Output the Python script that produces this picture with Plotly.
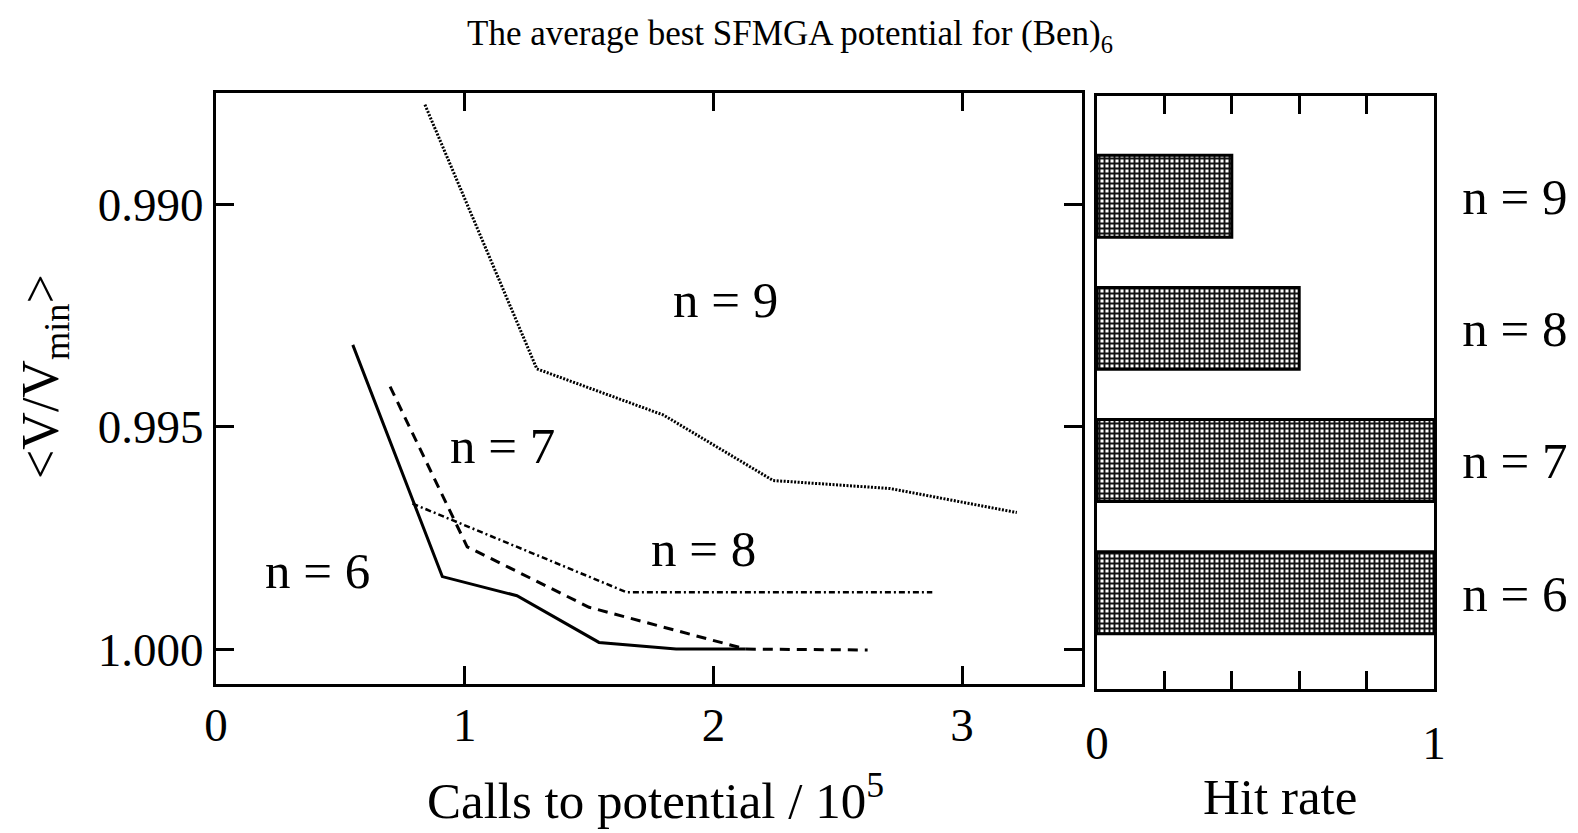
import plotly.graph_objects as go

# ---- data ----
n6_x = [0.55, 0.91, 1.21, 1.54, 1.85, 2.13]
n6_y = [0.99316, 0.99837, 0.99880, 0.99985, 1.00000, 1.00000]

n7_x = [0.70, 1.01, 1.50, 2.13, 2.62]
n7_y = [0.99410, 0.99770, 0.99906, 1.00000, 1.00002]

n8_x = [0.79, 1.65, 2.88]
n8_y = [0.99673, 0.99872, 0.99872]

n9_x = [0.84, 1.29, 1.80, 2.24, 2.71, 3.22]
n9_y = [0.98776, 0.99370, 0.99474, 0.99621, 0.99639, 0.99693]

bar_labels = ["n = 6", "n = 7", "n = 8", "n = 9"]
hit_rate = [1.0, 1.0, 0.6, 0.4]

curve_labels = ["n = 6", "n = 7", "n = 8", "n = 9"]
curve_label_x = [0.41, 1.15, 1.96, 2.05]
curve_label_y = [0.99824, 0.99543, 0.99774, 0.99215]

x_ticks = [0, 1, 2, 3]
y_ticks = [0.990, 0.995, 1.000]
y_tick_text = ["0.990", "0.995", "1.000"]
hit_ticks = [0, 1]
hit_minor_ticks = [0.2, 0.4, 0.6, 0.8]

FONT = "Liberation Serif"
# page body has an 8px margin; figure is sized to fit the window
OFF = 8
W, H = 1562, 822


def fx(px):
    return (px - OFF) / W


def fy(py):
    return 1 - (py - OFF) / H


fig = go.Figure()

styles = [
    dict(width=3, dash="solid"),
    dict(width=3, dash="10px,7px"),
    dict(width=2.5, dash="6px,3px,2px,3px"),
    dict(width=3, dash="2px,1.5px"),
]
for xs, ys, st in zip([n6_x, n7_x, n8_x, n9_x], [n6_y, n7_y, n8_y, n9_y], styles):
    fig.add_trace(go.Scatter(x=xs, y=ys, mode="lines",
                             line=dict(color="black", **st),
                             showlegend=False, xaxis="x", yaxis="y"))

fig.add_trace(go.Bar(
    x=hit_rate, y=list(range(len(bar_labels))), orientation="h",
    width=0.62,
    marker=dict(color="#808080",
                line=dict(color="black", width=3),
                pattern=dict(shape="+", size=5, solidity=0.62,
                             fgcolor="#111111", bgcolor="#ffffff", fillmode="replace")),
    showlegend=False, xaxis="x2", yaxis="y2"))

axis_common = dict(showline=True, mirror="ticks", linecolor="black", linewidth=3,
                   ticks="inside", ticklen=18, tickwidth=3, tickcolor="black",
                   showgrid=False, zeroline=False, automargin=False)
tick_font = dict(family=FONT, size=47, color="black")
label_font = dict(family=FONT, size=51, color="black")

fig.update_layout(
    width=W, height=H,
    margin=dict(l=0, r=0, t=0, b=0),
    template="none",
    paper_bgcolor="white", plot_bgcolor="white",
    font=dict(family=FONT, color="black"),
    title=dict(text="The average best SFMGA potential for (Ben)<sub>6</sub>",
               x=fx(790), xanchor="center", y=fy(33), yanchor="middle",
               font=dict(family=FONT, size=35, color="black")),
    xaxis=dict(domain=[fx(216), fx(1082)], range=[0, 3.482],
               tickvals=x_ticks, ticklabelstandoff=-2, tickfont=tick_font,
               **axis_common),
    yaxis=dict(domain=[fy(684), fy(93)], range=[1.000785, 0.987498],
               tickvals=y_ticks, ticktext=y_tick_text, ticklabelstandoff=0,
               tickfont=tick_font, **axis_common),
    xaxis2=dict(domain=[fx(1097), fx(1434)], range=[0, 1], anchor="y2",
                tickvals=hit_ticks, ticklabelstandoff=11, tickfont=tick_font,
                minor=dict(tickvals=hit_minor_ticks, ticks="inside", ticklen=18,
                           tickwidth=3, tickcolor="black", showgrid=False),
                **axis_common),
    yaxis2=dict(domain=[fy(689), fy(96)], range=[-0.728, 3.758], anchor="x2",
                side="right", showline=True, mirror=True, linecolor="black", linewidth=3,
                ticks="", tickvals=list(range(len(bar_labels))), ticktext=bar_labels,
                ticklabelstandoff=15, showgrid=False, zeroline=False, automargin=False,
                tickfont=label_font),
)

for t, x, y in zip(curve_labels, curve_label_x, curve_label_y):
    fig.add_annotation(x=x, y=y, xref="x", yref="y", text=t, showarrow=False,
                       font=label_font, xanchor="center", yanchor="middle")

fig.add_annotation(x=fx(655), y=fy(797), xref="paper", yref="paper",
                   text="Calls to potential / 10<sup>5</sup>", showarrow=False,
                   font=dict(family=FONT, size=51, color="black"),
                   xanchor="center", yanchor="middle")
fig.add_annotation(x=fx(1280), y=fy(797), xref="paper", yref="paper",
                   text="Hit rate", showarrow=False,
                   font=dict(family=FONT, size=51, color="black"),
                   xanchor="center", yanchor="middle")
fig.add_annotation(x=fx(45), y=fy(377), xref="paper", yref="paper",
                   text="&lt;V/V<sub>min</sub>&gt;", showarrow=False, textangle=-90,
                   font=dict(family=FONT, size=52, color="black"),
                   xanchor="center", yanchor="middle")

fig.write_html("out.html")
